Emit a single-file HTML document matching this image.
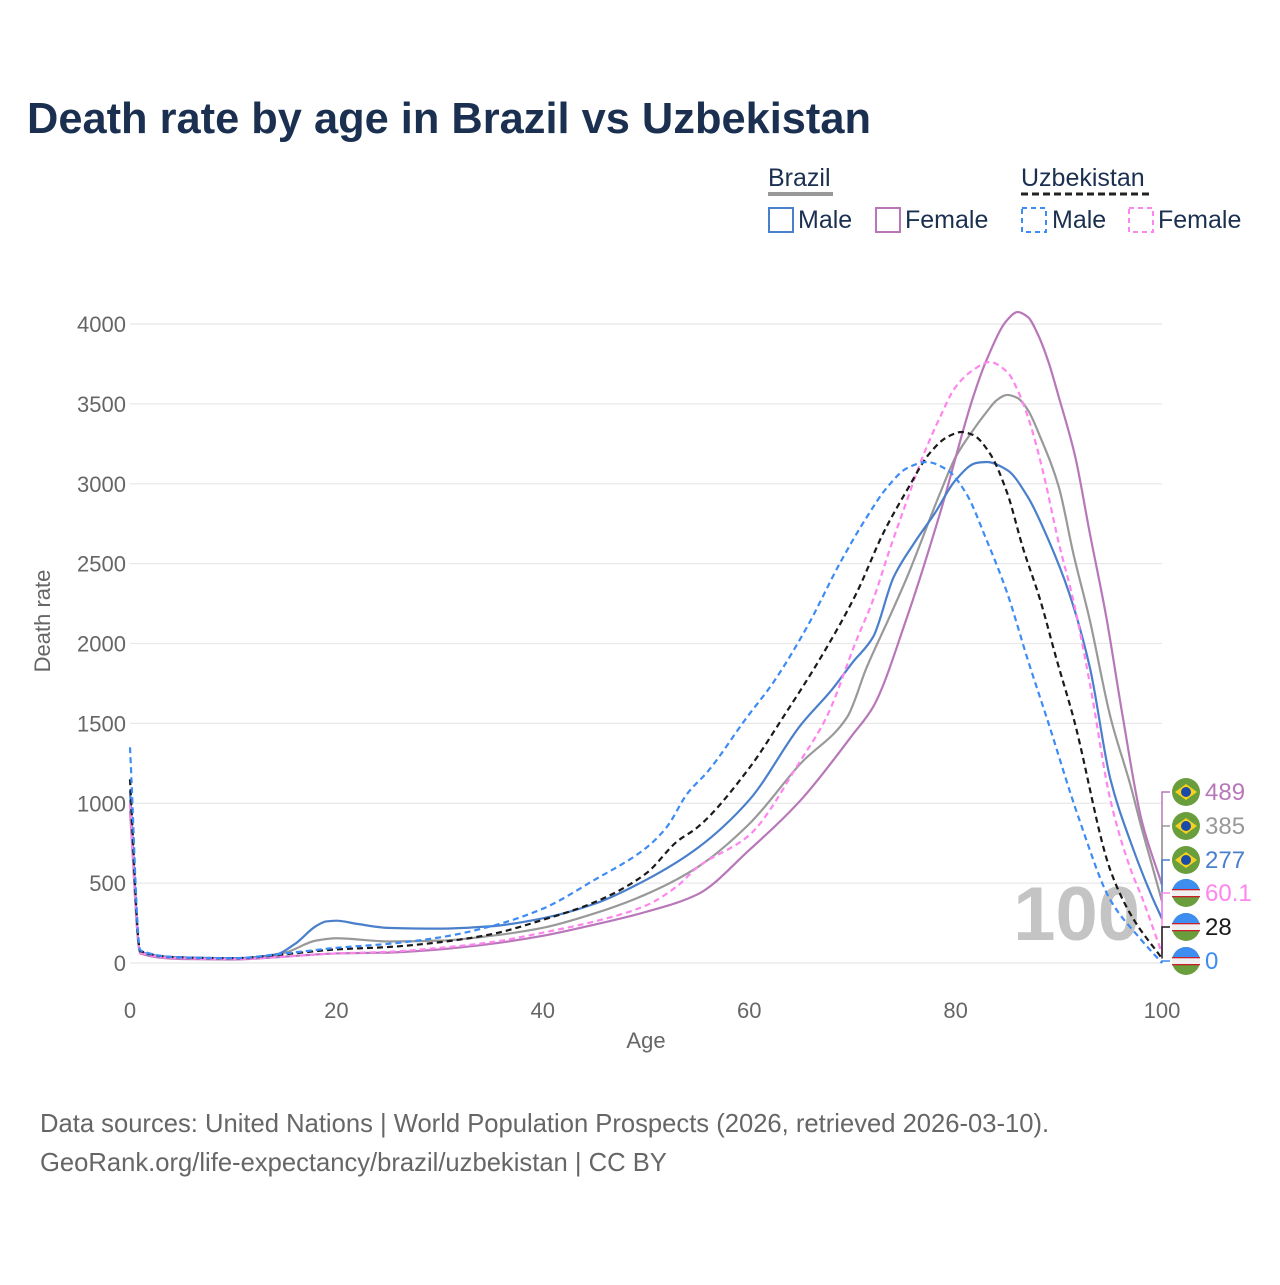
<!DOCTYPE html>
<html><head><meta charset="utf-8"><style>
body{margin:0;background:#fff;font-family:"Liberation Sans",sans-serif}
svg text{font-family:"Liberation Sans",sans-serif}
</style></head><body>
<svg id="chart" width="1280" height="1280" viewBox="0 0 1280 1280" xmlns="http://www.w3.org/2000/svg">
<rect width="1280" height="1280" fill="#fff"/>
<text x="27" y="133" font-size="43.4" font-weight="bold" fill="#1b3050">Death rate by age in Brazil vs Uzbekistan</text>
<g font-size="25" fill="#1b3050">
 <text x="768" y="186" fill="#1b3050">Brazil</text>
 <rect x="768" y="192" width="65" height="4" fill="#999"/>
 <text x="1021" y="186" fill="#1b3050">Uzbekistan</text>
 <line x1="1021" y1="194" x2="1149" y2="194" stroke="#222" stroke-width="3" stroke-dasharray="7,4"/>
 <g><rect x="769" y="208" width="24" height="24" fill="none" stroke="#4a7fcb" stroke-width="2"/><text x="798" y="228" fill="#1b3050">Male</text></g>
 <g><rect x="876" y="208" width="24" height="24" fill="none" stroke="#b877b8" stroke-width="2"/><text x="905" y="228" fill="#1b3050">Female</text></g>
 <g><rect x="1022" y="208" width="24" height="24" fill="none" stroke="#3d8cf5" stroke-width="2" stroke-dasharray="5,4"/><text x="1052" y="228" fill="#1b3050">Male</text></g>
 <g><rect x="1129" y="208" width="24" height="24" fill="none" stroke="#ff85ee" stroke-width="2" stroke-dasharray="5,4"/><text x="1158" y="228" fill="#1b3050">Female</text></g>
</g>
<g id="grid"></g>
<text x="1140" y="940" text-anchor="end" font-size="76" font-weight="bold" fill="#c4c4c4">100</text>
<g id="lines"></g>
<g id="labels"></g>
<text transform="translate(50,621) rotate(-90)" text-anchor="middle" font-size="22" fill="#666">Death rate</text>
<text x="646" y="1048" text-anchor="middle" font-size="22" fill="#666">Age</text>
<text x="40" y="1132" font-size="25.6" fill="#666">Data sources: United Nations | World Population Prospects (2026, retrieved 2026-03-10).</text>
<text x="40" y="1171" font-size="25.6" fill="#666">GeoRank.org/life-expectancy/brazil/uzbekistan | CC BY</text>
</svg>
<script>
const xTicks=[0,20,40,60,80,100];
const yTicks=[0,500,1000,1500,2000,2500,3000,3500,4000];
const brMaleAges=[0,1,5,10,14,16,18,19,20,22,25,30,35,40,45,50,55,60,65,68,70,72,74,76,78,80,82,83,85,87,89,91,93,95,97,99,100];
const brMaleVals=[1080,70,35,30,50,120,230,260,265,245,220,215,230,280,370,520,720,1020,1490,1710,1880,2040,2416,2630,2817,3023,3130,3136,3086,2917,2648,2316,1853,1150,750,420,277];
const brFemaleAges=[0,1,5,10,15,20,25,30,35,40,45,50,55,60,65,70,72,75.3,78.5,81.7,83,85,86,87,88,89,90,91.6,93,94.6,96.2,98,100];
const brFemaleVals=[950,60,25,22,40,60,65,85,120,170,240,320,430,707,1020,1427,1602,2166,2817,3543,3775,4025,4075,4044,3931,3762,3543,3167,2692,2166,1540,900,489];
const brTotalAges=[0,1,5,10,15,18,20,25,30,35,40,45,50,55,60,65,69.5,71.4,73.6,75.3,78.5,80,81.7,83,84,85,86,87,88.2,90,91.4,93,95,97,98,99,100];
const brTotalVals=[1020,65,30,25,65,140,155,135,140,170,220,310,430,600,870,1250,1540,1853,2166,2416,2942,3167,3336,3449,3524,3556,3537,3462,3293,2980,2566,2147,1540,1100,850,620,385];
const uzMaleAges=[0,1,5,10,15,20,25,30,35,40,45,50,52,54,56,59.8,62.3,65.6,68.8,71.4,73.4,75.3,77.2,79.2,81,83,85,87,88.9,92,95,98,100];
const uzMaleVals=[1350,80,35,30,60,95,120,160,230,340,520,720,850,1060,1200,1540,1753,2103,2504,2792,2980,3098,3136,3086,2942,2648,2316,1897,1521,895,394,144,0];
const uzFemaleAges=[0,1,5,10,15,20,25,30,35,40,45,50,53,55,60,65,67.5,70.4,72,73.6,75.3,76.8,78.5,80,81.7,83.3,85,86,87.2,88.5,90,91.4,93,95,97,98,100];
const uzFemaleVals=[1000,65,30,25,40,60,70,95,130,190,260,360,480,600,800,1270,1540,2022,2272,2585,2898,3167,3418,3606,3712,3762,3700,3587,3380,3067,2629,2272,1753,1020,580,420,60];
const uzTotalAges=[0,1,5,10,15,20,25,30,35,40,45,50,53,55,60,63.3,67.2,70.4,73,75.3,77.5,79.2,80.6,81.7,83.3,85,86.5,88.2,89.8,91.4,95,97,100];
const uzTotalVals=[1150,75,35,30,55,85,100,130,180,270,380,560,760,850,1220,1540,1941,2316,2692,2961,3192,3293,3324,3305,3192,2942,2604,2272,1897,1540,580,300,28];
const endLabels=["489","385","277","60.1","28","0"];
const X0=130,X1=1162,Y0=963,Y4=324;
const xs=a=>X0+(X1-X0)*a/100;
const ys=v=>Y0-(Y0-Y4)*v/4000;
const NS="http://www.w3.org/2000/svg";
function mk(tag,attrs,parent){const e=document.createElementNS(NS,tag);for(const k in attrs)e.setAttribute(k,attrs[k]);parent.appendChild(e);return e;}
const grid=document.getElementById('grid');
yTicks.forEach(v=>{
 const l=mk('line',{x1:X0,x2:X1,y1:ys(v),y2:ys(v),stroke:'#e8e8e8','stroke-width':1.2},grid);
 
 
 const t=mk('text',{x:X0-4,y:ys(v)+8,'text-anchor':'end','font-size':22,fill:'#666'},grid);
 t.textContent=v;
 
 
});
xTicks.forEach(a=>{
 const t=mk('text',{x:xs(a),y:1018,'text-anchor':'middle','font-size':22,fill:'#666'},grid);
 t.textContent=a;
 
 
});
// monotone cubic (Fritsch-Carlson)
function pathD(ages,vals){
 const x=ages.map(xs),y=vals.map(ys),n=x.length;
 const d=[],m=new Array(n);
 for(let i=0;i<n-1;i++)d.push((y[i+1]-y[i])/(x[i+1]-x[i]));
 m[0]=d[0];m[n-1]=d[n-2];
 for(let i=1;i<n-1;i++){
  if(d[i-1]*d[i]<=0)m[i]=0;
  else{const h0=x[i]-x[i-1],h1=x[i+1]-x[i];const w1=2*h1+h0,w2=h1+2*h0;m[i]=(w1+w2)/(w1/d[i-1]+w2/d[i]);}
 }
 let s='M'+x[0]+','+y[0];
 for(let i=0;i<n-1;i++){
  const h=(x[i+1]-x[i])/3;
  s+=` C${x[i]+h},${y[i]+m[i]*h} ${x[i+1]-h},${y[i+1]-m[i+1]*h} ${x[i+1]},${y[i+1]}`;
 }
 return s;
}
const lines=document.getElementById('lines');
const series=[
 ['line-brazil-total',brTotalAges,brTotalVals,'#999',''],
 ['line-brazil-female',brFemaleAges,brFemaleVals,'#b877b8',''],
 ['line-brazil-male',brMaleAges,brMaleVals,'#4a7fcb',''],
 ['line-uzbekistan-female',uzFemaleAges,uzFemaleVals,'#ff85ee','6,4'],
 ['line-uzbekistan-total',uzTotalAges,uzTotalVals,'#1a1a1a','6,4'],
 ['line-uzbekistan-male',uzMaleAges,uzMaleVals,'#3d8cf5','6,4']
];
series.forEach(s=>{
 const p=mk('path',{d:pathD(s[1],s[2]),fill:'none',stroke:s[3],'stroke-width':2.2,'stroke-dasharray':s[4]||'none'},lines);
 
 
});
const labs=document.getElementById('labels');
const labelInfo=[
 [brFemaleVals,'#b877b8','br'],[brTotalVals,'#999','br'],[brMaleVals,'#4a7fcb','br'],
 [uzFemaleVals,'#ff85ee','uz'],[uzTotalVals,'#1a1a1a','uz'],[uzMaleVals,'#3d8cf5','uz']];
const labelY=[792,826,860,893,927,961];
labelInfo.forEach((li,i)=>{
 const v=li[0][li[0].length-1];const yl=labelY[i];
 const g=mk('g',{},labs);
 
 
 mk('polyline',{points:`${X1},${ys(v)} ${X1},${yl} ${X1+8},${yl}`,fill:'none',stroke:li[1],'stroke-width':1.5},g);
 const cx=1186,cy=yl;
 if(li[2]==='br'){
  mk('circle',{cx,cy,r:14,fill:'#6a9e3c'},g);
  mk('polygon',{points:`${cx-11},${cy} ${cx},${cy-8} ${cx+11},${cy} ${cx},${cy+8}`,fill:'#f5d31c'},g);
  mk('circle',{cx,cy,r:5,fill:'#1c4aa8'},g);
 }else{
  mk('circle',{cx,cy,r:14,fill:'#6a9e3c'},g);
  mk('path',{d:`M${cx-14},${cy} A14,14 0 0 1 ${cx+14},${cy} Z`,fill:'#3d8ef0'},g);
  mk('rect',{x:cx-14,y:cy-4,width:28,height:8,fill:'#f0f0f0'},g);
  mk('rect',{x:cx-14,y:cy-4,width:28,height:1.3,fill:'#c8202a'},g);
  mk('rect',{x:cx-14,y:cy+3,width:28,height:1.3,fill:'#c8202a'},g);
 }
 const t=mk('text',{x:1205,y:yl+8,'font-size':24,fill:li[1]},g);
 t.textContent=endLabels[i];
});
</script>
</body></html>
